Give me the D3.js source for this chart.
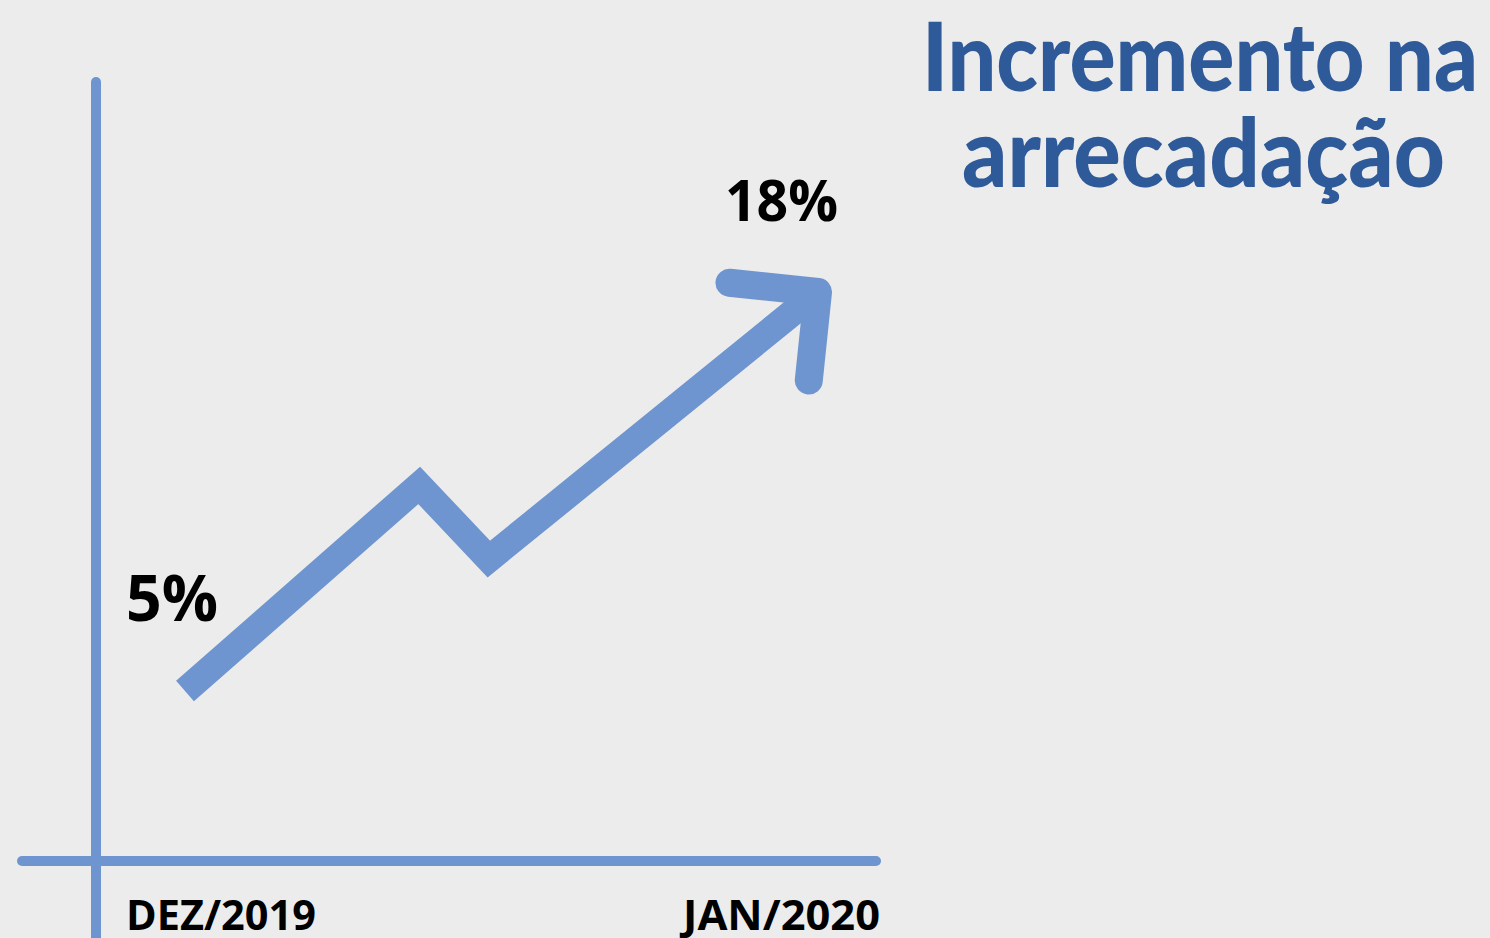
<!DOCTYPE html>
<html>
<head>
<meta charset="utf-8">
<script src="https://cdn.jsdelivr.net/npm/d3@7"></script>
<style>
  html, body { margin: 0; padding: 0; background: #ececec; }
  svg { display: block; }
</style>
</head>
<body>
<svg id="chart" width="1490" height="938"></svg>
<script>
// chart data
var categories = ['DEZ/2019', 'JAN/2020'];
var values = [5, 18];
var titleLines = ['Incremento na', 'arrecadação'];
// the zig-zag arrow: progress along time (0..1) and value in %
var arrowSteps = [0, 0.37, 0.48, 1];
var arrowValues = [5, 11.7, 9.3, 18];

var svg = d3.select('#chart'),
    blue = '#6e95cf',
    navy = '#2f5a9a';

var x = d3.scaleLinear().domain([0, 1]).range([185, 818]),
    y = d3.scaleLinear().domain([5, 18]).range([691, 292]);

// axes
svg.append('line')
    .attr('x1', 96).attr('y1', 82).attr('x2', 96).attr('y2', 960)
    .attr('stroke', blue).attr('stroke-width', 10).attr('stroke-linecap', 'round');
svg.append('line')
    .attr('x1', 22).attr('y1', 861).attr('x2', 876).attr('y2', 861)
    .attr('stroke', blue).attr('stroke-width', 10).attr('stroke-linecap', 'round');

// arrow body
var pts = arrowSteps.map(function (s, i) { return [x(s), y(arrowValues[i])]; });
svg.append('path')
    .attr('d', d3.line()(pts))
    .attr('fill', 'none')
    .attr('stroke', blue)
    .attr('stroke-width', 27)
    .attr('stroke-linejoin', 'miter');

// arrow head, arms at +/-45 degrees from the last segment
var tip = pts[pts.length - 1],
    prev = pts[pts.length - 2],
    back = Math.atan2(prev[1] - tip[1], prev[0] - tip[0]),
    armLen = 89,
    head = [
        [tip[0] + armLen * Math.cos(back + Math.PI / 4), tip[1] + armLen * Math.sin(back + Math.PI / 4)],
        tip,
        [tip[0] + armLen * Math.cos(back - Math.PI / 4), tip[1] + armLen * Math.sin(back - Math.PI / 4)]
    ];
svg.append('path')
    .attr('d', d3.line()(head))
    .attr('fill', 'none')
    .attr('stroke', blue)
    .attr('stroke-width', 28)
    .attr('stroke-linecap', 'round')
    .attr('stroke-linejoin', 'round');

// value labels
svg.append('text')
    .attr('x', 126).attr('y', 621)
    .attr('font-family', 'Open Sans, Noto Sans, sans-serif')
    .attr('font-weight', 700).attr('font-size', 64)
    .attr('textLength', 92).attr('lengthAdjust', 'spacingAndGlyphs')
    .attr('fill', '#000')
    .text(values[0] + '%');
svg.append('text')
    .attr('x', 725).attr('y', 221)
    .attr('font-family', 'Open Sans, Noto Sans, sans-serif')
    .attr('font-weight', 700).attr('font-size', 58)
    .attr('textLength', 113).attr('lengthAdjust', 'spacingAndGlyphs')
    .attr('fill', '#000')
    .text(values[1] + '%');

// category labels
svg.selectAll('.cat').data(categories)
    .enter()
    .append('text')
    .attr('class', 'cat')
    .attr('x', function (d, i) { return i === 0 ? 126 : 880; })
    .attr('y', 930)
    .attr('text-anchor', function (d, i) { return i === 0 ? 'start' : 'end'; })
    .attr('font-family', 'Open Sans, Noto Sans, sans-serif')
    .attr('font-weight', 700).attr('font-size', 41)
    .attr('textLength', function (d, i) { return i === 0 ? 190 : 197; })
    .attr('lengthAdjust', 'spacingAndGlyphs')
    .attr('fill', '#000')
    .text(function (d) { return d; });

// title
svg.selectAll('.title').data(titleLines)
    .enter()
    .append('text')
    .attr('class', 'title')
    .attr('x', function (d, i) { return i === 0 ? 922 : 962; })
    .attr('y', function (d, i) { return 91 + i * 96; })
    .attr('font-family', 'Lato, Open Sans, sans-serif')
    .attr('font-weight', 900).attr('font-size', 96)
    .attr('textLength', function (d, i) { return i === 0 ? 556 : 483; })
    .attr('lengthAdjust', 'spacingAndGlyphs')
    .attr('fill', navy)
    .text(function (d) { return d; });
</script>
</body>
</html>
